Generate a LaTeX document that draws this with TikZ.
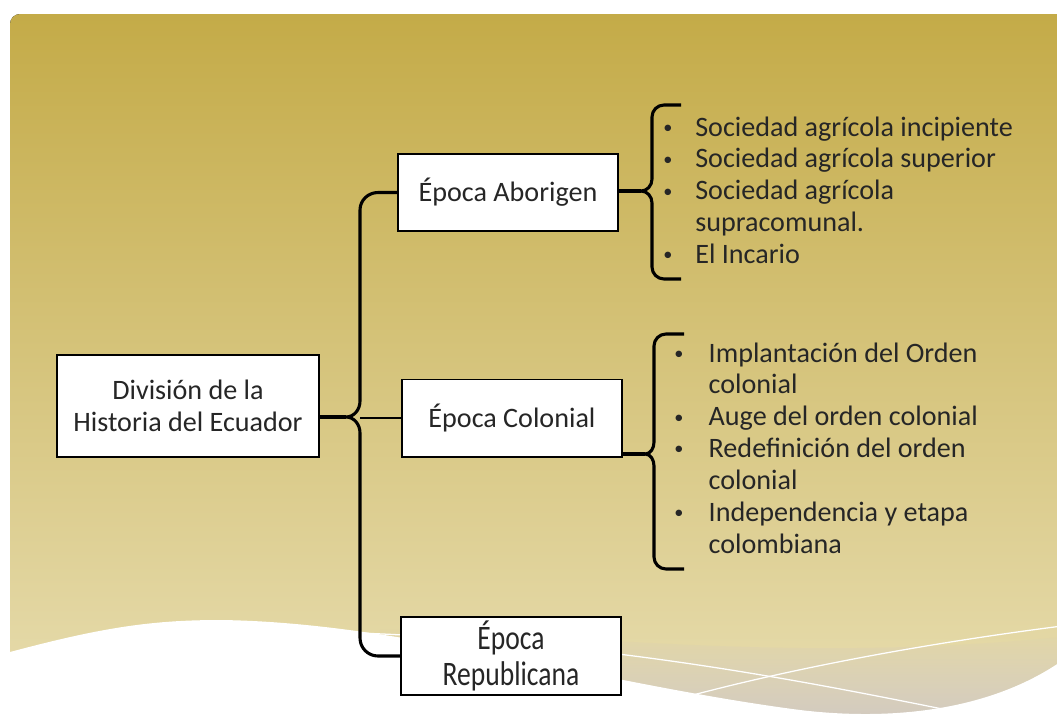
\documentclass[tikz,border=0pt]{standalone}
\usepackage{fontspec}
\setmainfont{Carlito}
\usepackage{graphicx}
\usetikzlibrary{fadings}

\definecolor{bgtop}{RGB}{196,171,72}
\definecolor{bgmid}{RGB}{212,193,120}
\definecolor{bgbot}{RGB}{232,222,178}
\definecolor{bandlow}{RGB}{208,200,194}
\definecolor{ink}{RGB}{38,38,38}

\newcommand{\itm}{\raisebox{0.1em}{\scalebox{0.65}{\textbullet}}}

\tikzset{
  box/.style={draw=black, line width=1.4pt, fill=white, inner sep=0pt, minimum width=5.5cm, minimum height=1.925cm, align=center, text=ink, font=\fontsize{20}{22.7}\selectfont},
  brace/.style={line width=2.2pt, line join=round},
  itemlist/.style={anchor=base west, inner sep=0pt, text=ink, font=\fontsize{20}{22.7}\selectfont}
}

\begin{document}
\begin{tikzpicture}[x=0.025cm, y=-0.025cm]
\useasboundingbox (0,0) rectangle (1057,718);

% background
\fill[top color=bgtop, middle color=bgmid, bottom color=bgbot] (10,730) [rounded corners=0.25cm] -- (10,14) [sharp corners] -- (1070,14) -- (1070,730) -- cycle;
\fill[bandlow, path fading=north] (380,628) .. controls (600,636) and (800,664) .. (1070,636) -- (1070,730) -- (380,730) -- cycle;
\fill[white] (-5,652) -- (10,652) .. controls (100,628) and (150,620) .. (220,620) .. controls (400,622) and (600,684) .. (800,710) .. controls (900,722) and (1000,708) .. (1070,655) -- (1070,730) -- (-5,730) -- cycle;
\draw[white, line width=0.9pt] (330,632) .. controls (600,640) and (800,680) .. (977,716);
\draw[white, line width=0.9pt] (667,702) .. controls (800,665) and (950,640) .. (1070,625);

% boxes
\node (root) at (188,406) [box, minimum width=6.55cm, minimum height=2.55cm] {División de la\\Historia del Ecuador};
\node (abor) at (508,192.5) [box] {Época Aborigen};
\node (colo) at (512,418) [box] {Época Colonial};
\node (repu) at (511,656) [box, minimum height=1.95cm] {\scalebox{0.98}[1.22]{Época}\\[3pt]\scalebox{0.98}[1.22]{Republicana}};

% main bracket
\coordinate (roottip) at (346,417);
\coordinate (spine) at (360,418);
\draw[brace] (abor.west) -- (378,192.5) to[out=180,in=90] (360,210) -- (360,401) to[out=-90,in=0] (roottip) to[out=0,in=90] (360,433) -- (360,638) to[out=-90,in=180] (378,656) -- (repu.west);
\draw[brace] (root.east |- roottip) -- (roottip);
\draw[line width=0.8pt] (spine) -- (colo.west);

% brace of Época Aborigen
\coordinate (abortip) at (641,191);
\draw[brace] (681,105) -- (664,105) to[out=180,in=90] (652,117) -- (652,179) to[out=-90,in=0] (abortip) to[out=0,in=90] (652,203) -- (652,267) to[out=-90,in=180] (664,279) -- (681,279);
\draw[brace] (abor.east |- abortip) -- (abortip);

% brace of Época Colonial
\coordinate (colotip) at (645,454);
\draw[brace] (684,334) -- (666,334) to[out=180,in=90] (654,346) -- (654,442) to[out=-90,in=0] (colotip) to[out=0,in=90] (654,466) -- (654,557) to[out=-90,in=180] (666,569) -- (684,569);
\draw[brace] (colo.east |- colotip) -- (colotip);

% lists
\node (aborlist) at (663,136) [itemlist] {\begin{tabular}[t]{@{}p{0.8cm}@{}l@{}}
\itm & Sociedad agrícola incipiente\\
\itm & Sociedad agrícola superior\\
\itm & Sociedad agrícola\\
 & supracomunal.\\
\itm & El Incario
\end{tabular}};
\node (cololist) at (674,362) [itemlist] {\begin{tabular}[t]{@{}p{0.86cm}@{}l@{}}
\itm & Implantación del Orden\\
 & colonial\\
\itm & Auge del orden colonial\\
\itm & Redefinición del orden\\
 & colonial\\
\itm & Independencia y etapa\\
 & colombiana
\end{tabular}};
\end{tikzpicture}
\end{document}
